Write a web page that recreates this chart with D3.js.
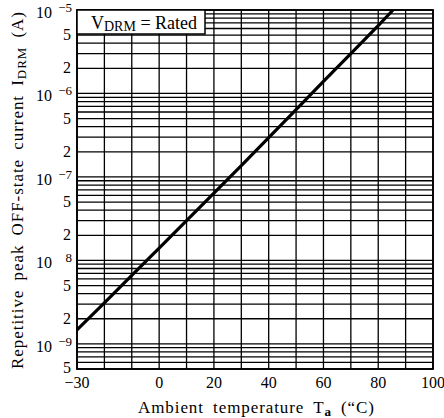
<!DOCTYPE html>
<html>
<head>
<meta charset="utf-8">
<script src="https://cdn.jsdelivr.net/npm/d3@7"></script>
<style>
  body { margin: 0; background: #fff; }
</style>
</head>
<body>
<svg id="svg" width="444" height="418"></svg>
<script>
// temperature (degC) vs repetitive peak off-state current (A)
const temps = [-30, -20, -10, 0, 10, 20, 30, 40, 50, 60, 70, 80, 85.4];
const currents = [1.47e-9, 3.1e-9, 6.6e-9, 1.4e-8, 3.0e-8, 6.4e-8, 1.37e-7, 2.95e-7, 6.4e-7, 1.4e-6, 3.0e-6, 6.5e-6, 1.0e-5];

const xTicks = [-30, 0, 20, 40, 60, 80, 100];
const xTickLabels = ["\u221230", "0", "20", "40", "60", "80", "100"];
const yTicks = [1e-5, 5e-6, 2e-6, 1e-6, 5e-7, 2e-7, 1e-7, 5e-8, 2e-8, 1e-8, 5e-9, 2e-9, 1e-9, 5e-10];
const yTickBase = ["10", "5", "2", "10", "5", "2", "10", "5", "2", "10", "5", "2", "10", "5"];
const yTickSup = ["\u22125", "", "", "\u22126", "", "", "\u22127", "", "", "8", "", "", "\u22129", ""];

const svg = d3.select("#svg")
  .style("font-family", "'Liberation Serif'");
const margin = {top: 10, right: 11, bottom: 49, left: 77};
const W = 444, H = 418;

const x = d3.scaleLinear().domain([-30, 100]).range([margin.left, W - margin.right]);
const y = d3.scaleLog().domain([5e-10, 1e-5]).range([H - margin.bottom, margin.top]);

// loosen letters so a title covers the same length as in the scan
function fitText(sel, target) {
  sel.attr("word-spacing", 4);
  const node = sel.node();
  const len = node.getComputedTextLength();
  const n = node.textContent.length;
  sel.attr("letter-spacing", Math.max(0, (target - len) / (n - 1)));
}

// grid
const grid = svg.append("g").attr("stroke", "#000").attr("stroke-width", 1.3);
grid.selectAll(".vg")
  .data(d3.range(-30, 101, 10))
  .enter().append("line")
  .attr("x1", d => x(d)).attr("x2", d => x(d))
  .attr("y1", y.range()[1]).attr("y2", y.range()[0]);
grid.selectAll(".hg")
  .data(y.ticks())
  .enter().append("line")
  .attr("x1", x.range()[0]).attr("x2", x.range()[1])
  .attr("y1", d => y(d)).attr("y2", d => y(d));

// frame
svg.append("rect")
  .attr("x", x.range()[0]).attr("y", y.range()[1])
  .attr("width", x.range()[1] - x.range()[0])
  .attr("height", y.range()[0] - y.range()[1])
  .attr("fill", "none").attr("stroke", "#000").attr("stroke-width", 1.8);

// curve
const line = d3.line().x((d, i) => x(temps[i])).y(d => y(d));
svg.append("path")
  .attr("d", line(currents))
  .attr("fill", "none").attr("stroke", "#000").attr("stroke-width", 3.2);

// condition box
svg.append("rect")
  .attr("x", x.range()[0]).attr("y", y.range()[1])
  .attr("width", 128).attr("height", 24)
  .attr("fill", "#fff").attr("stroke", "#000").attr("stroke-width", 1.5);
const cond = svg.append("text").attr("x", 91).attr("y", 29).attr("font-size", 18);
cond.append("tspan").text("V");
cond.append("tspan").attr("font-size", 14).attr("dy", 2).text("DRM");
cond.append("tspan").attr("dy", -2).text(" = Rated");

// y tick labels
const yl = svg.append("g").attr("font-size", 16).attr("text-anchor", "end");
yTicks.forEach((v, i) => {
  if (yTickSup[i]) {
    yl.append("text").attr("x", 52).attr("y", y(v) + 8).text(yTickBase[i]);
    yl.append("text").attr("x", 72).attr("y", y(v) + 2)
      .attr("font-size", 13).text(yTickSup[i]);
  } else {
    yl.append("text").attr("x", 71).attr("y", y(v) + (i === yTicks.length - 1 ? 4 : 5)).text(yTickBase[i]);
  }
});

// x tick labels
svg.append("g").attr("font-size", 16).attr("text-anchor", "middle")
  .selectAll("text")
  .data(xTicks)
  .enter().append("text")
  .attr("x", d => x(d)).attr("y", 388)
  .text((d, i) => xTickLabels[i]);

// x title
const xt = svg.append("text").attr("x", 138).attr("y", 413).attr("font-size", 17);
xt.append("tspan").text("Ambient temperature T");
xt.append("tspan").attr("font-size", 13).attr("font-weight", "bold").attr("dy", 3).text("a");
xt.append("tspan").attr("dy", -3).text(" (\u201cC)");
fitText(xt, 236);

// y title
const yt = svg.append("text").attr("transform", "translate(23,369) rotate(-90)")
  .attr("font-size", 17);
yt.append("tspan").text("Repetitive peak OFF-state current I");
yt.append("tspan").attr("font-size", 13).attr("dy", 3).text("DRM");
yt.append("tspan").attr("dy", -3).text(" (A)");
fitText(yt, 357);
</script>
</body>
</html>
